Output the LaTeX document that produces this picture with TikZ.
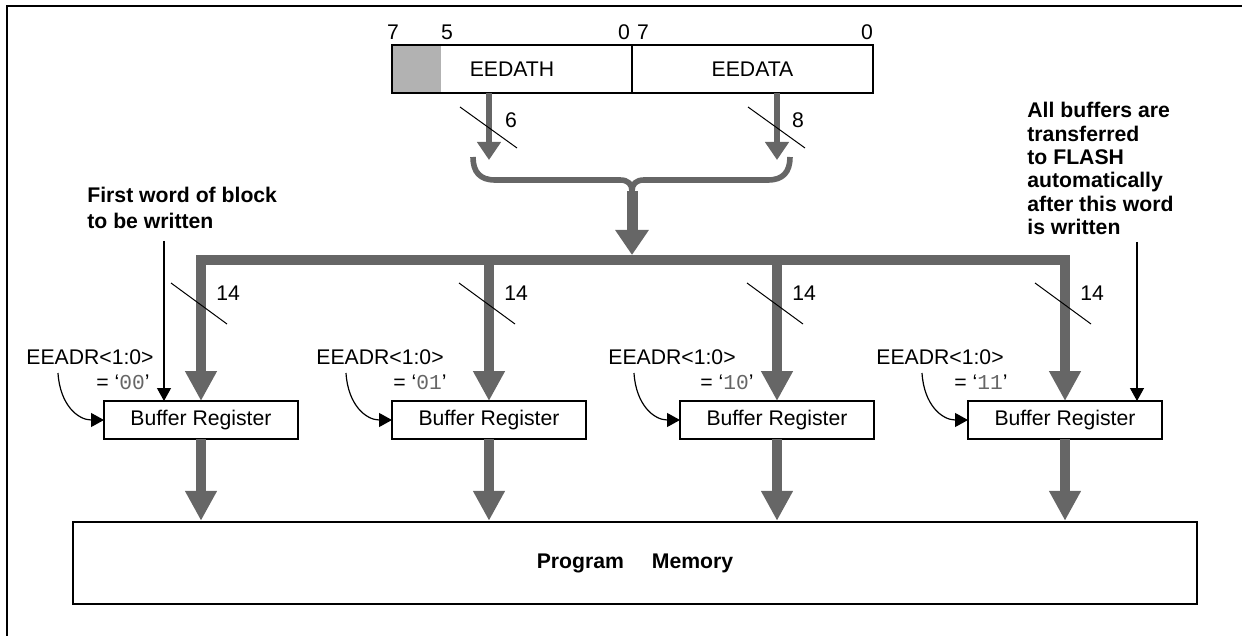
\documentclass[tikz,border=0pt]{standalone}
\usepackage{fontspec}
\setmainfont{Liberation Sans}
\newfontfamily\monofont{Liberation Mono}
\usepackage{tikz}
\usetikzlibrary{calc}
\usetikzlibrary{arrows.meta}

\definecolor{busgray}{gray}{0.4}
\definecolor{padgray}{gray}{0.7}
\newcommand{\figfont}{\fontsize{10.6}{12}\selectfont}

\begin{document}
\begin{tikzpicture}[x=0.5pt, y=-0.5pt, every node/.style={font=\figfont},
    regbox/.style={draw, line width=1.2pt, minimum height=24pt, outer sep=0pt},
    bufbox/.style={draw, line width=1.2pt, minimum width=97pt, minimum height=19pt, outer sep=0pt},
    fatarrow/.style={draw=busgray, line width=5pt, -{Triangle[length=15pt,width=15pt]}},
    regarrow/.style={draw=busgray, line width=3pt, -{Triangle[length=9pt,width=11.5pt]}},
    thinarrow/.style={line width=0.6pt, -{Triangle[length=6.5pt,width=7pt]}},
    slash/.style={line width=0.5pt},
    note/.style={font=\figfont\bfseries, align=left, anchor=north west, inner sep=0pt}]

\useasboundingbox (0,0) rectangle (1242,636);
\draw[line width=1.1pt] (7,636) -- (7,6) -- (1242,6);

% --- REGISTER (Top Section): EEDATH : EEDATA ---
\begin{scope}
    \fill[padgray] (392,45) rectangle (441,93);
    \node[regbox, minimum width=120pt] (hi) at (512,69) {EEDATH};
    \node[regbox, minimum width=120.5pt] (lo) at (752.5,69) {EEDATA};

    % bit numbers
    \node (b7h) at (393,32) {7};
    \node (b5h) at (447,32) {5};
    \node (b0h) at (624,32) {0};
    \node (b7l) at (643,32) {7};
    \node (b0l) at (867,32) {0};

    % Coordinates
    \coordinate (tipH) at (489,160);
    \coordinate (tipL) at (777,160);
    \coordinate (cusp) at (632,191);
    \coordinate (hub) at (632,255);

    \draw[regarrow] (hi.south -| tipH) -- (tipH);
    \draw[regarrow] (lo.south -| tipL) -- (tipL);
    \draw[slash] (460,107) -- (517,148);
    \draw[slash] (748,107) -- (805,148);
    \node (w6) at (511,120) {6};
    \node (w8) at (798,120) {8};

    % merge brace
    \draw[busgray, line width=2.8pt, line join=round]
        (473,157) .. controls (473,172) and (480,180) .. (495,180) -- (620,180)
        .. controls (628,180) and (632,184) .. (cusp)
        .. controls (632,184) and (636,180) .. (644,180) -- (768,180)
        .. controls (783,180) and (790,172) .. (790,157);
    \draw[busgray, line width=5.5pt, -{Triangle[length=12.5pt,width=16pt]}] (cusp) -- (hub);
\end{scope}

% --- BUFFERS (Middle Section) ---
\begin{scope}
    \coordinate (busy) at (0,260);
    \foreach \i/\x in {1/201, 2/489, 3/777, 4/1065}
        \node[bufbox] (buf\i) at (\x,420) {Buffer Register};

    \draw[busgray, line width=5pt, {Triangle[length=15pt,width=15pt]}-{Triangle[length=15pt,width=15pt]}]
        (buf1.north) -- (buf1.north |- busy) -- (buf4.north |- busy) -- (buf4.north);
    \foreach \i in {2,3}
        \draw[fatarrow] (buf\i.north |- busy) -- (buf\i.north);

    \foreach \i in {1,...,4} {
        \draw[slash] ($(buf\i.north |- busy)+(-30,23)$) -- ++(56,41);
        \node[anchor=west, inner sep=0pt] (w\i) at ($(buf\i.north |- busy)+(15,33)$) {14};
    }

    % address select labels
    \foreach \i/\lx/\ex/\v in {1/90/123/00, 2/380/420/01, 3/672/727/10, 4/940/981/11} {
        \node (adr\i) at (\lx,357) {EEADR<1:0>};
        \node (sel\i) at (\ex,382) {= `{\color{black!60}\monofont \v}'};
        \coordinate (from\i) at ($(buf\i.west)+(-46,-47)$);
        \draw[thinarrow] (from\i) .. controls +(2,32) and +(-26,0) .. (buf\i.west);
    }

    % notes
    \node[note, font=\fontsize{10.6}{12.8}\selectfont\bfseries] (firstnote) at (87,187) {First word of block\\to be written};
    \node[note, font=\fontsize{10.6}{11.7}\selectfont\bfseries] (lastnote) at (1027,102) {All buffers are\\transferred\\to FLASH\\automatically\\after this word\\is written};
    \coordinate (firstTop) at (164,241);
    \coordinate (lastTop) at (1137,242);
    \draw[thinarrow] (firstTop) -- (firstTop |- buf1.north);
    \draw[thinarrow] (lastTop) -- (lastTop |- buf4.north);
\end{scope}

% --- PROGRAM MEMORY (Bottom Section) ---
\node[draw, line width=1.2pt, minimum width=562pt, minimum height=41pt, font=\figfont\bfseries] (mem) at (635,563) {Program\hspace{14pt}Memory};
\foreach \i in {1,...,4}
    \draw[fatarrow] (buf\i.south) -- (buf\i.south |- mem.north);

\end{tikzpicture}
\end{document}
